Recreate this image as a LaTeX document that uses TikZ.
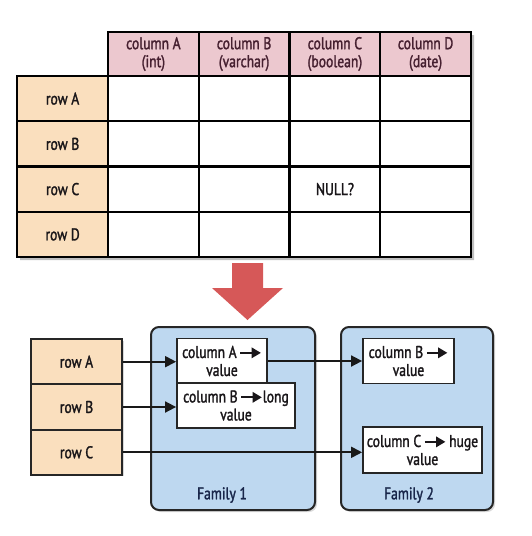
\documentclass[tikz,border=0pt]{standalone}
\usepackage{fontspec}
\setmainfont{PT Sans}[FakeStretch=0.8, FakeBold=1.6]
\usetikzlibrary{arrows.meta,shadows}
\definecolor{hdr}{RGB}{236,200,207}
\definecolor{rowc}{RGB}{250,223,190}
\definecolor{fam}{RGB}{190,216,240}
\definecolor{redar}{RGB}{214,88,88}
\definecolor{txt}{RGB}{25,22,25}
\definecolor{hdrtxt}{RGB}{70,32,48}
\definecolor{famtxt}{RGB}{25,38,74}
\newcommand\rar{\tikz[baseline=0pt]\draw[line width=1.9pt,-{Triangle[length=0.55em,width=0.62em]}] (0pt,0.3em) -- (1.2em,0.3em);}
\begin{document}
\begin{tikzpicture}[x=1pt,y=-1pt,
  font=\fontsize{17}{18}\selectfont, text=txt,
  cell/.style={draw=black, line width=2.2pt, minimum width=90.75pt, minimum height=45.25pt, inner sep=0pt, align=center, fill=white},
  hcell/.style={cell, fill=hdr, minimum height=44pt, text=hdrtxt},
  rcell/.style={cell, fill=rowc},
  rowbox/.style={draw=black!85, line width=2pt, fill=rowc, minimum width=91pt, minimum height=45.3pt, inner sep=0pt,
    drop shadow={shadow xshift=1.5pt, shadow yshift=-1.5pt, opacity=0.3}},
  family/.style={draw=black!85, line width=2pt, fill=fam, rounded corners=8pt, inner sep=0pt,
    drop shadow={shadow xshift=2pt, shadow yshift=-2pt, opacity=0.3}},
  valbox/.style={draw=black!85, line width=1.8pt, fill=white, minimum height=45pt, inner sep=0pt, align=center},
  famlabel/.style={text=famtxt},
  conn/.style={line width=1.8pt, draw=black!90, -{Triangle[length=11pt,width=11pt]}}]
\useasboundingbox (0,0) rectangle (531,536);

% ---- table shadow ----
\fill[black, opacity=0.25] (111,35) -- (474,35) -- (474,260) -- (20,260) -- (20,79) -- (111,79) -- cycle;
% ---- table body ----
\foreach \c/\x in {1/153.4,2/244.1,3/334.9,4/425.6}{
  \foreach \r/\y in {1/98.6,2/143.9,3/189.1,4/234.4}{
    \node[cell] (c\c\r) at (\x,\y) {};
  }
}
\node at (c33) {NULL?};
% ---- header ----
\node[hcell] (hA) at (153.4,54) {column A\\(int)};
\node[hcell] (hB) at (244.1,54) {column B\\(varchar)};
\node[hcell] (hC) at (334.9,54) {column C\\(boolean)};
\node[hcell] (hD) at (425.6,54) {column D\\(date)};
% ---- row labels ----
\node[rcell] (rA) at (62.6,98.6) {row A};
\node[rcell] (rB) at (62.6,143.9) {row B};
\node[rcell] (rC) at (62.6,189.1) {row C};
\node[rcell] (rD) at (62.6,234.4) {row D};

% ---- big red arrow ----
\fill[redar] (232,263) -- (263,263) -- (263,288) -- (283,288) -- (247.5,320) -- (212,288) -- (232,288) -- cycle;

% ---- families ----
\node[family, minimum width=164pt, minimum height=183pt] (f1) at (233,418.5) {};
\node[family, minimum width=152pt, minimum height=183pt] (f2) at (417,418.5) {};
\node[famlabel] (l1) at (222,495) {Family 1};
\node[famlabel] (l2) at (409,495) {Family 2};

% ---- row boxes ----
\node[rowbox] (bA) at (76.5,361.7) {row A};
\node[rowbox] (bB) at (76.5,407) {row B};
\node[rowbox] (bC) at (76.5,452.3) {row C};

% ---- value boxes ----
\node[valbox, minimum width=90pt] (vA) at (222,361) {column A\,\rar\\value};
\node[valbox, minimum width=118pt] (vB) at (236,405.5) {column B\,\rar long\\value};
\node[valbox, minimum width=91pt] (wB) at (408.5,361) {column B\,\rar\\value};
\node[valbox, minimum width=119pt, minimum height=46pt] (wC) at (422.5,450) {column C\,\rar\,huge\\value};

% ---- connectors ----
\draw[conn] (bA.east) -- (bA.east -| vA.west);
\draw[conn] (bB.east) -- (bB.east -| vB.west);
\draw[conn] (bC.east) -- (bC.east -| wC.west);
\draw[conn] (vA.east) -- (vA.east -| wB.west);
\end{tikzpicture}
\end{document}
